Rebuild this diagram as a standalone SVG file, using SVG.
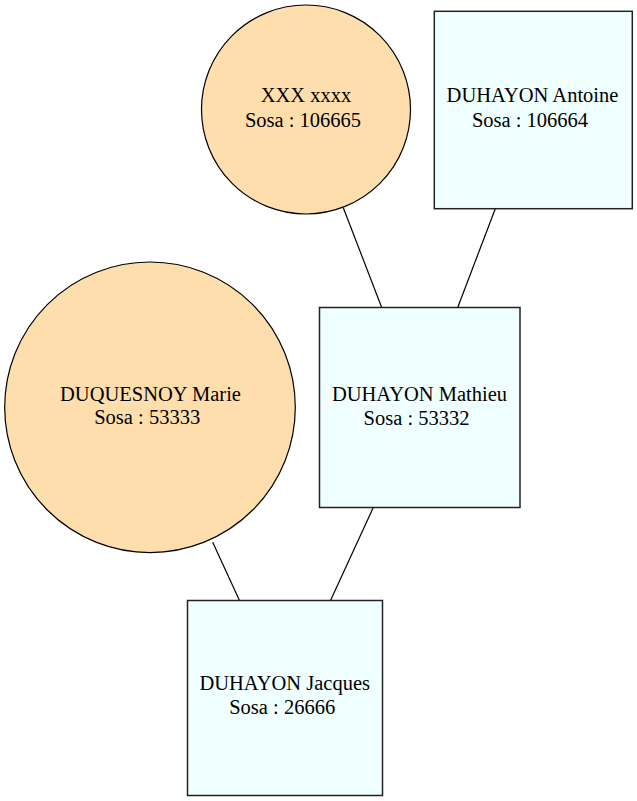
<svg xmlns="http://www.w3.org/2000/svg" width="637" height="801" viewBox="0 0 637 801">
<style>
.bg{fill:#ffffff}
.female{fill:#ffdead;stroke:#000000;stroke-width:1.2}
.male{fill:#f0ffff;stroke:#222222;stroke-width:1.5}
.edge{fill:none;stroke:#000000;stroke-width:1.2}
text{font-family:"Liberation Serif","Times New Roman",serif;font-size:20.5px;fill:#000000;text-anchor:middle}
</style>
<rect class="bg" x="0" y="0" width="637" height="801"/>
<g id="connectors">
<line class="edge" x1="343.3" y1="207.7" x2="381.7" y2="307.5"/>
<line class="edge" x1="495.3" y1="208.7" x2="457.7" y2="307.5"/>
<line class="edge" x1="212.7" y1="542.3" x2="239.5" y2="600.5"/>
<line class="edge" x1="373.3" y1="507.5" x2="330.5" y2="600.5"/>
</g>
<g id="node-xxx">
<circle class="female" cx="306" cy="109.5" r="104.5"/>
<text x="306" y="102.3">XXX xxxx</text>
<text x="303" y="126.7">Sosa : 106665</text>
</g>
<g id="node-antoine">
<rect class="male" x="434.3" y="11.3" width="198" height="197.4"/>
<text x="532.5" y="101.7">DUHAYON Antoine</text>
<text x="530" y="126.7">Sosa : 106664</text>
</g>
<g id="node-marie">
<circle class="female" cx="150" cy="407.3" r="145.3"/>
<text x="150.5" y="400.7">DUQUESNOY Marie</text>
<text x="147.2" y="424.3">Sosa : 53333</text>
</g>
<g id="node-mathieu">
<rect class="male" x="319.5" y="307.5" width="200.5" height="200"/>
<text x="419.5" y="401">DUHAYON Mathieu</text>
<text x="416.5" y="424.7">Sosa : 53332</text>
</g>
<g id="node-jacques">
<rect class="male" x="187.5" y="600.5" width="195" height="195"/>
<text x="284.7" y="690">DUHAYON Jacques</text>
<text x="282.2" y="714">Sosa : 26666</text>
</g>
</svg>
